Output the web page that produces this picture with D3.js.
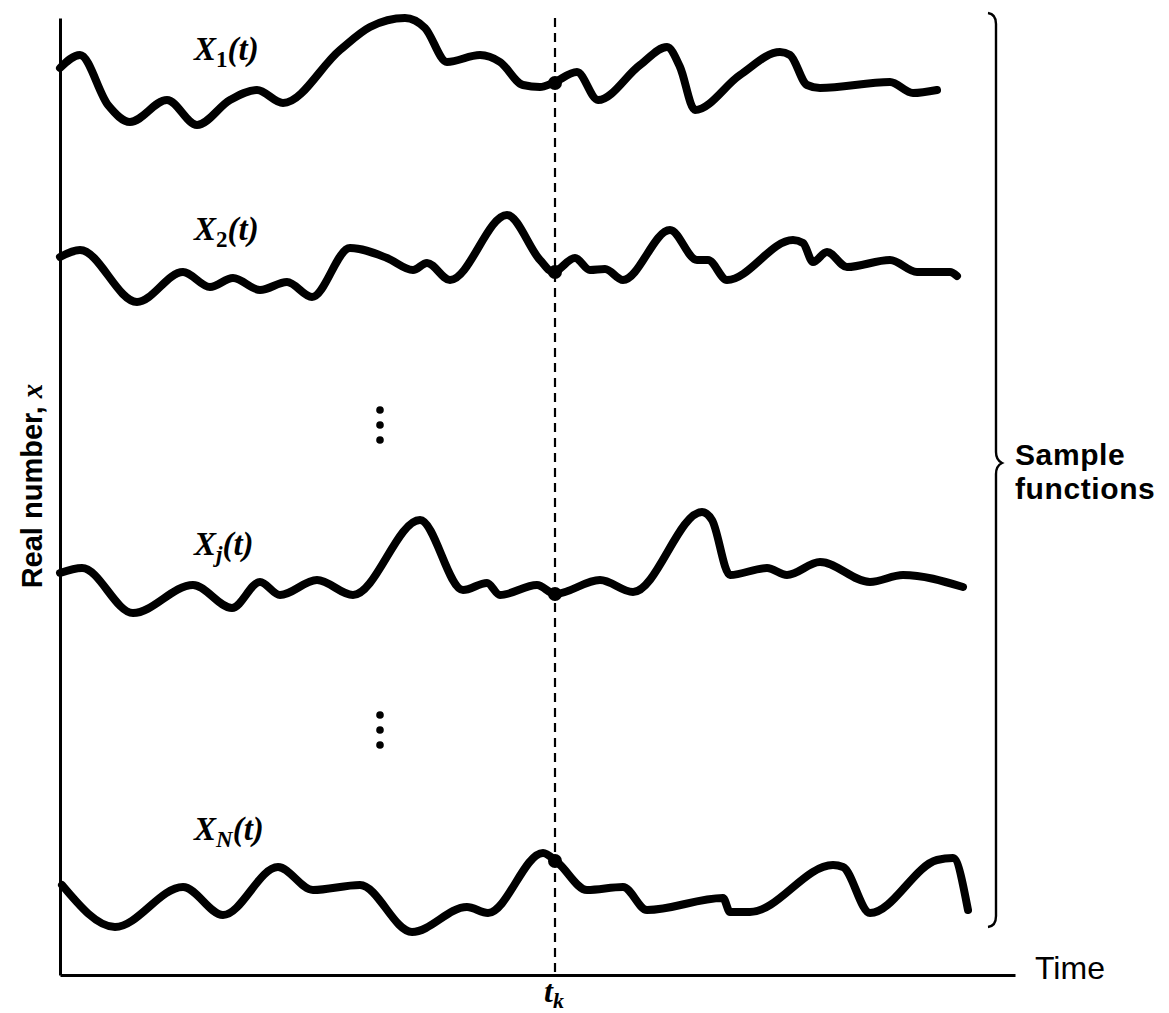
<!DOCTYPE html>
<html>
<head>
<meta charset="utf-8">
<script src="https://cdn.jsdelivr.net/npm/d3@7"></script>
<style>
html,body{margin:0;padding:0;background:#fff;}
svg{display:block;}
</style>
</head>
<body>
<svg id="chart" width="1169" height="1013"></svg>
<script>
// ---------------- data ----------------
const seriesNames = ["1", "2", "j", "N"];
const tk = 495;
// sample times (t) and values (x) for each sample function
const x1T = [0,20,48,70,107,137,170,197,223,280,310,345,365,387,420,440,463,480,493,517,538,580,607,620,635,680,720,730,747,760,830,853,877];
const x1V = [907,920,870,853,875,850,875,885,872,925,948,957,947,913,920,913,890,888,892,903,875,910,928,908,865,900,923,920,890,887,893,882,885];
const x2T = [0,20,77,123,150,173,200,227,252,290,327,353,367,390,447,480,493,515,530,545,563,610,637,648,667,733,743,753,767,787,830,857,890,897];
const x2V = [718,725,673,703,688,697,685,693,678,727,717,705,712,695,760,715,703,717,705,706,695,745,715,715,695,735,732,713,723,708,715,703,703,699];
const xjT = [0,22,73,133,172,200,220,257,293,360,403,427,440,477,495,540,573,642,652,670,707,727,760,810,843,903];
const xjV = [402,407,362,390,367,393,380,395,380,455,385,392,380,390,381,395,383,463,455,400,407,400,413,393,400,388];
const xnT = [2,55,123,163,218,253,300,352,407,428,483,497,527,563,587,663,670,690,773,783,810,877,893,908];
const xnV = [90,48,88,60,108,85,90,43,68,62,122,113,85,88,65,77,63,63,110,108,62,115,117,65];
// value of each sample function at t_k
const tkValues = [892, 703, 381, 114];

// ---------------- setup ----------------
const svg = d3.select("#chart");
const x = d3.scaleLinear().domain([0, 955]).range([60, 1015]);
const y = d3.scaleLinear().domain([0, 957]).range([975, 18]);

const series = [
  {name: seriesNames[0], t: x1T, v: x1V},
  {name: seriesNames[1], t: x2T, v: x2V},
  {name: seriesNames[2], t: xjT, v: xjV},
  {name: seriesNames[3], t: xnT, v: xnV}
];

// axes
svg.append("g").attr("transform", `translate(0,${y(0)})`)
  .call(d3.axisBottom(x).tickValues([]).tickSizeOuter(0))
  .call(g => g.select(".domain").attr("stroke", "#000").attr("stroke-width", 3));
svg.append("g").attr("transform", `translate(${x(0)},0)`)
  .call(d3.axisLeft(y).tickValues([]).tickSizeOuter(0))
  .call(g => g.select(".domain").attr("stroke", "#000").attr("stroke-width", 3));

// dashed t_k line
svg.append("line")
  .attr("x1", x(tk)).attr("x2", x(tk))
  .attr("y1", y(957)).attr("y2", y(0))
  .attr("stroke", "#000").attr("stroke-width", 2.2)
  .attr("stroke-dasharray", "9,6");

// curves
const line = d3.line()
  .x(d => x(d[0]))
  .y(d => y(d[1]))
  .curve(d3.curveMonotoneX);

series.forEach((s, k) => {
  const pts = s.t.map((t, i) => [t, s.v[i]]);
  svg.append("path")
    .attr("d", line(pts))
    .attr("fill", "none")
    .attr("stroke", "#000")
    .attr("stroke-width", 8)
    .attr("stroke-linejoin", "round")
    .attr("stroke-linecap", "round");
  svg.append("circle")
    .attr("cx", x(tk)).attr("cy", y(tkValues[k]))
    .attr("r", 7).attr("fill", "#000");
});

// series labels
const labelPos = [[194, 60], [194, 240], [194, 555], [194, 840]];
series.forEach((s, k) => {
  const t = svg.append("text")
    .attr("x", labelPos[k][0]).attr("y", labelPos[k][1])
    .attr("font-family", "Liberation Serif, serif")
    .attr("font-weight", "bold")
    .attr("font-style", "italic")
    .attr("font-size", 33)
    .attr("fill", "#000");
  t.append("tspan").text("X");
  t.append("tspan").attr("font-size", 23).attr("dy", 7)
    .attr("font-style", (s.name === "1" || s.name === "2") ? "normal" : "italic")
    .text(s.name);
  t.append("tspan").attr("dy", -7).text("(t)");
});

// vertical ellipses
const ellipsisY = [[410, 425, 440], [715, 730, 745]];
ellipsisY.forEach(grp => grp.forEach(yy => {
  svg.append("circle").attr("cx", 380).attr("cy", yy).attr("r", 3.8).attr("fill", "#000");
}));

// brace
const bx = 996;
const bp = d3.path();
bp.moveTo(bx - 8, 13);
bp.quadraticCurveTo(bx, 14, bx, 24);
bp.lineTo(bx, 452);
bp.quadraticCurveTo(bx, 460, bx + 6, 463);
bp.quadraticCurveTo(bx, 466, bx, 474);
bp.lineTo(bx, 916);
bp.quadraticCurveTo(bx, 926, bx - 8, 927);
svg.append("path").attr("d", bp.toString())
  .attr("fill", "none").attr("stroke", "#000").attr("stroke-width", 2.4);

// brace text
const sf = svg.append("text")
  .attr("font-family", "Liberation Sans, Arial, sans-serif")
  .attr("font-size", 30)
  .attr("font-weight", "bold")
  .attr("letter-spacing", 0.6)
  .attr("fill", "#000");
sf.append("tspan").attr("x", 1015).attr("y", 465).text("Sample");
sf.append("tspan").attr("x", 1015).attr("y", 499).text("functions");

// axis titles
svg.append("text")
  .attr("x", 1035).attr("y", 979)
  .attr("font-family", "Liberation Sans Narrow, Liberation Sans, sans-serif")
  .attr("font-size", 32)
  .attr("fill", "#000")
  .text("Time");

const yt = svg.append("text")
  .attr("transform", "translate(42,486) rotate(-90)")
  .attr("text-anchor", "middle")
  .attr("font-family", "Liberation Sans, Arial, sans-serif")
  .attr("font-weight", "bold")
  .attr("font-size", 29)
  .attr("fill", "#000");
yt.append("tspan").text("Real number, ");
yt.append("tspan").attr("font-family", "Liberation Serif, serif")
  .attr("font-style", "italic").attr("font-weight", "bold").text("x");

const tl = svg.append("text")
  .attr("x", x(tk) - 11).attr("y", 1002)
  .attr("font-family", "Liberation Serif, serif")
  .attr("font-style", "italic").attr("font-weight", "bold")
  .attr("font-size", 32).attr("fill", "#000");
tl.append("tspan").text("t");
tl.append("tspan").attr("font-size", 22).attr("dy", 6).text("k");
</script>
</body>
</html>
